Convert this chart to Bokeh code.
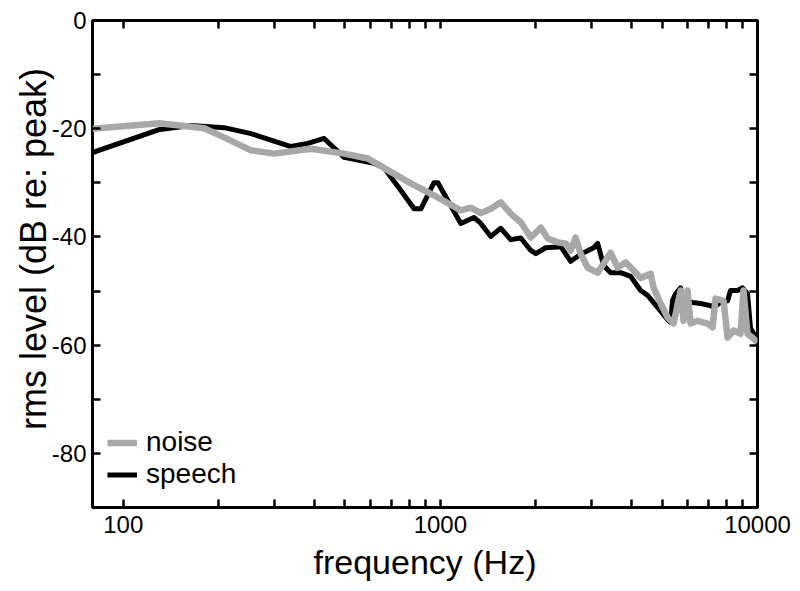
from bokeh.plotting import figure
from bokeh.models import (LogAxis, LinearAxis, FixedTicker, NumeralTickFormatter,
                          Legend, LegendItem, Range1d)
from bokeh.embed import file_html
from bokeh.resources import INLINE

# ---- data ----
speech_freq = [80, 129, 164, 208, 253, 338, 382, 430, 497, 618, 664, 751, 826, 868,
               954, 982, 1057, 1160, 1276, 1341, 1442, 1551, 1667, 1793, 1928, 2000,
               2149, 2396, 2576, 2770, 3044, 3133, 3273, 3444, 3702, 3982, 4281, 4503,
               4842, 5207, 5321, 5396, 5515, 5721, 5807, 6241, 6613, 7113, 7268, 7646,
               8046, 8222, 8650, 8974, 9301, 9506, 9714, 10000]
speech_db = [-24.4, -20.2, -19.4, -19.8, -20.9, -23.3, -22.7, -21.8, -25.3, -26.4, -27.2,
             -31.4, -34.8, -34.8, -30.0, -30.0, -33.3, -37.5, -36.4, -37.5, -39.9, -38.4,
             -40.5, -40.2, -42.5, -43.1, -42.0, -41.8, -44.5, -43.2, -42.0, -41.2, -45.3,
             -46.6, -46.6, -47.3, -49.9, -50.8, -53.0, -55.3, -55.8, -51.8, -50.5, -49.4,
             -51.8, -52.1, -52.3, -52.7, -53.0, -52.1, -51.8, -49.9, -49.9, -49.4, -50.5,
             -56.9, -57.8, -58.6]

noise_freq = [80, 130, 180, 208, 253, 299, 391, 497, 591, 684, 807, 954, 1160, 1247, 1341,
              1442, 1551, 1667, 1793, 1928, 2074, 2181, 2345, 2485, 2576, 2670, 2770, 2915,
              3133, 3273, 3444, 3624, 3840, 4069, 4281, 4603, 4704, 4949, 5207, 5437, 5637,
              5721, 5848, 6018, 6151, 6470, 6960, 7216, 7376, 7816, 8046, 8403, 8842, 9035,
              9301, 9638, 10000]
noise_db = [-20.0, -19.0, -19.9, -21.6, -24.0, -24.6, -23.7, -24.6, -25.5, -27.7, -30.1,
            -32.3, -35.1, -34.6, -35.6, -34.8, -33.6, -35.7, -37.3, -40.1, -38.3, -40.3,
            -41.0, -41.2, -42.5, -40.1, -43.1, -45.7, -46.6, -44.9, -42.9, -45.7, -44.7,
            -46.2, -47.6, -46.8, -49.4, -52.3, -54.9, -56.0, -51.8, -49.9, -55.5, -49.9,
            -56.0, -55.5, -56.0, -56.7, -51.4, -51.8, -58.6, -57.3, -57.9, -49.9, -57.9,
            -58.6, -59.5]

x_major = [100, 1000, 10000]
x_minor = [200, 300, 400, 500, 600, 700, 800, 900,
           2000, 3000, 4000, 5000, 6000, 7000, 8000, 9000]
y_major = [-80, -60, -40, -20, 0]
y_minor = [-90, -70, -50, -30, -10]

FONT = "Liberation Sans"

p = figure(width=800, height=591, x_axis_type="log",
           x_range=Range1d(80, 10000), y_range=Range1d(-90, 0),
           output_backend="svg", toolbar_location=None,
           min_border_left=92, min_border_right=43, min_border_top=20, min_border_bottom=84)
p.grid.visible = False
p.outline_line_color = "black"
p.outline_line_width = 3
p.background_fill_color = "white"
p.border_fill_color = "white"

rs = p.line(speech_freq, speech_db, line_color="black", line_width=5, line_join="round")
rn = p.line(noise_freq, noise_db, line_color="#a8a8a8", line_width=6.5, line_join="round")


def style(ax):
    ax.axis_line_color = None
    ax.major_tick_in = 8
    ax.major_tick_out = 0
    ax.minor_tick_in = 8
    ax.minor_tick_out = 0
    ax.major_tick_line_width = 2.5
    ax.minor_tick_line_width = 2.5
    ax.major_tick_line_color = "black"
    ax.minor_tick_line_color = "black"
    ax.major_label_text_font = FONT
    ax.major_label_text_color = "black"
    ax.major_label_text_font_size = "24px"
    ax.axis_label_text_font = FONT
    ax.axis_label_text_font_style = "normal"
    ax.axis_label_text_color = "black"
    ax.axis_label_text_font_size = "34px"


xa = p.xaxis[0]
xa.ticker = FixedTicker(ticks=x_major, minor_ticks=x_minor)
xa.formatter = NumeralTickFormatter(format="0")
xa.axis_label = "frequency (Hz)"
style(xa)
xa.major_label_standoff = 8
xa.axis_label_standoff = 7

ya = p.yaxis[0]
ya.ticker = FixedTicker(ticks=y_major, minor_ticks=y_minor)
ya.formatter = NumeralTickFormatter(format="0")
ya.axis_label = "\u00a0\u00a0\u00a0rms level (dB re: peak)"
style(ya)
ya.axis_label_text_font_size = "36px"
ya.major_label_standoff = 6
ya.axis_label_standoff = -5

top = LogAxis(ticker=FixedTicker(ticks=x_major, minor_ticks=x_minor))
style(top)
top.major_label_text_alpha = 0
top.major_label_text_font_size = "2px"
top.major_label_standoff = 0
p.add_layout(top, "above")

right = LinearAxis(ticker=FixedTicker(ticks=y_major, minor_ticks=y_minor))
style(right)
right.major_label_text_alpha = 0
right.major_label_text_font_size = "2px"
right.major_label_standoff = 0
p.add_layout(right, "right")

legend = Legend(items=[LegendItem(label="noise", renderers=[rn]),
                       LegendItem(label="speech", renderers=[rs])],
                location=(15, 17), border_line_color=None, background_fill_alpha=0,
                label_text_font=FONT, label_text_font_size="28px", label_text_color="black",
                glyph_width=30, glyph_height=31, label_height=31, spacing=0,
                padding=0, margin=0, label_standoff=9)
p.add_layout(legend)

open("out.html", "w").write(file_html(p, INLINE))
